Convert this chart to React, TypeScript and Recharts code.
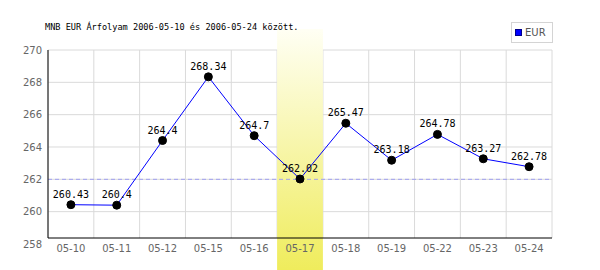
import {
  LineChart,
  Line,
  XAxis,
  YAxis,
  CartesianGrid,
  ReferenceArea,
  ReferenceLine,
  LabelList,
} from "recharts";

const dates = [
  "05-10", "05-11", "05-12", "05-15", "05-16", "05-17",
  "05-18", "05-19", "05-22", "05-23", "05-24",
];
const eurRates = [
  260.43, 260.4, 264.4, 268.34, 264.7, 262.02,
  265.47, 263.18, 264.78, 263.27, 262.78,
];
const yTicks = [258, 260, 262, 264, 266, 268, 270];
const gridValues = [260, 262, 264, 266, 268, 270];
const highlightDay = "05-17";
const refRate = 262;
const title = "MNB EUR Árfolyam 2006-05-10 és 2006-05-24 között.";

const data = dates.map((d, i) => ({ date: d, EUR: eurRates[i] }));

const MONO = "'DejaVu Sans Mono', monospace";
const SANS = "'DejaVu Sans', sans-serif";

const Band = (props: any) => {
  const { x, width } = props;
  // band runs from just under the title down to the bottom edge
  const top = 21;
  const bottom = 262;
  return (
    <g>
      <defs>
        <linearGradient id="hl" x1="0" y1="0" x2="0" y2="1">
          <stop offset="0%" stopColor="#fffff4" />
          <stop offset="100%" stopColor="#efec5c" />
        </linearGradient>
      </defs>
      <rect x={x} y={top} width={width} height={bottom - top} fill="url(#hl)" />
    </g>
  );
};

const verticalLines = ({ offset }: any) =>
  Array.from({ length: dates.length + 1 }, (_, i) => offset.left + (i * offset.width) / dates.length);

export default function App() {
  return (
    <div style={{ position: "relative", width: 592, height: 262 }}>
      <LineChart
        width={592}
        height={262}
        data={data}
        margin={{ top: 42, right: 48, bottom: 0, left: 0 }}
      >
        <CartesianGrid
          stroke="#dadada"
          horizontalValues={gridValues}
          verticalCoordinatesGenerator={verticalLines}
        />
        <ReferenceLine
          y={refRate}
          stroke="#a0a0f0"
          strokeDasharray="4 3"
          ifOverflow="visible"
        />
        <ReferenceArea
          x1={highlightDay}
          x2={highlightDay}
          ifOverflow="visible"
          shape={<Band />}
        />
        <XAxis
          dataKey="date"
          scale="band"
          height={32}
          axisLine={{ stroke: "#000" }}
          tickLine={false}
          tickSize={4}
          tickMargin={3}
          interval={0}
          tick={{ fontFamily: SANS, fontSize: 10, fill: "#666" }}
        />
        <YAxis
          width={40}
          domain={[258.37, 270]}
          allowDataOverflow
          ticks={yTicks}
          interval={0}
          axisLine={{ stroke: "#000" }}
          tickLine={false}
          tickSize={4}
          tickMargin={2}
          tick={{ fontFamily: SANS, fontSize: 10, fill: "#666" }}
        />
        <Line
          type="linear"
          dataKey="EUR"
          stroke="#0000ff"
          strokeWidth={1}
          dot={{ r: 4, fill: "#000", stroke: "#000", strokeWidth: 1 }}
          isAnimationActive={false}
        >
          <LabelList
            dataKey="EUR"
            position="top"
            offset={7}
            style={{ fontFamily: MONO, fontSize: 10, fill: "#000" }}
          />
        </Line>
      </LineChart>
      <div
        style={{
          position: "absolute",
          left: 37,
          top: 13.5,
          fontFamily: MONO,
          fontSize: 8.6,
          lineHeight: "10px",
          color: "#000",
          whiteSpace: "nowrap",
        }}
      >
        {title}
      </div>
      <div
        style={{
          position: "absolute",
          left: 503,
          top: 14,
          width: 40,
          height: 19,
          border: "1px solid #d4d4d4",
          background: "#fff",
          display: "flex",
          alignItems: "center",
          fontFamily: SANS,
          fontSize: 10,
          color: "#555",
        }}
      >
        <span
          style={{
            display: "inline-block",
            width: 5,
            height: 5,
            background: "#0000ff",
            border: "1px solid #00008b",
            marginLeft: 3,
            marginRight: 3,
          }}
        />
        EUR
      </div>
    </div>
  );
}
